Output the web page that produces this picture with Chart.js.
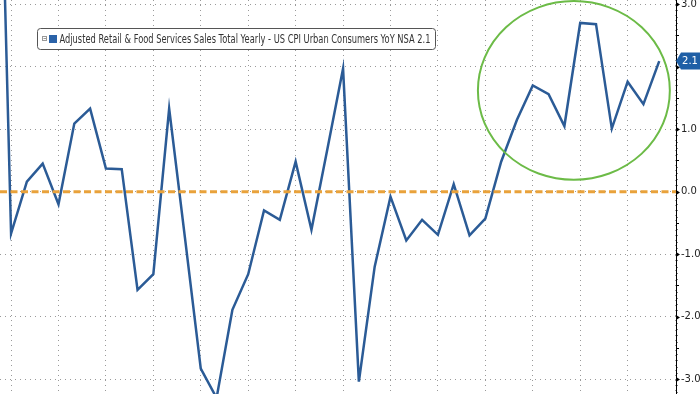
<!DOCTYPE html>
<html>
<head>
<meta charset="utf-8">
<script src="https://cdn.jsdelivr.net/npm/chart.js@4"></script>
<style>
html, body { margin: 0; padding: 0; background: #fff; }
#wrap { width: 700px; height: 394px; position: relative; }
</style>
</head>
<body>
<div id="wrap"><canvas id="c"></canvas></div>
<script>
// Retail sales YoY minus CPI YoY, monthly (first point sits just off the left edge)
const spread = [9.1, -0.67, 0.16, 0.45, -0.20, 1.09, 1.33, 0.37, 0.36, -1.57, -1.32,
  1.33, -0.74, -2.83, -3.3, -1.89, -1.32, -0.30, -0.45, 0.48, -0.61, 0.67, 1.97,
  -3.04, -1.20, -0.08, -0.78, -0.45, -0.69, 0.12, -0.70, -0.43, 0.48, 1.15, 1.70,
  1.56, 1.05, 2.70, 2.68, 1.01, 1.76, 1.40, 2.09];
const months = spread.map((_, i) => i);
const zeroLine = [0, 0];
const quarterGrid = [1, 4, 7, 10, 13, 16, 19, 22, 25, 28, 31, 34, 37, 40, 43];
const yTicks = [-3, -2, -1, 0, 1, 2, 3];
const seriesName = 'Adjusted Retail & Food Services Sales Total Yearly - US CPI Urban Consumers YoY NSA';

const xMin = 0.3, xMax = 43.06;
const lineBlue = '#2b5b96';

const overlay = {
  id: 'overlay',
  afterDatasetsDraw(chart) {
    const {ctx, scales: {x, y}, chartArea} = chart;
    ctx.save();

    // green ring round the last stretch
    const cx = x.getPixelForValue(36.6), cy = y.getPixelForValue(1.62);
    const rx = x.getPixelForValue(42.67) - cx, ry = cy - y.getPixelForValue(3.05);
    ctx.strokeStyle = '#6cbb47';
    ctx.lineWidth = 2;
    ctx.beginPath();
    ctx.ellipse(cx, cy, rx, ry, 0, 0, Math.PI * 2);
    ctx.stroke();

    // axis ticks: minor every 0.1, medium every 0.5, arrow at whole numbers
    const ax = chartArea.right;
    ctx.fillStyle = '#000';
    ctx.strokeStyle = '#000';
    ctx.lineWidth = 1;
    for (let t = -32; t <= 30; t++) {
      const py = Math.round(y.getPixelForValue(t / 10)) + 0.5;
      if (t % 10 === 0) {
        ctx.beginPath();
        ctx.moveTo(ax, py - 2.5);
        ctx.lineTo(ax + 4, py);
        ctx.lineTo(ax, py + 2.5);
        ctx.closePath();
        ctx.fill();
      } else {
        const len = t % 5 === 0 ? 3 : 1.5;
        ctx.beginPath();
        ctx.moveTo(ax, py);
        ctx.lineTo(ax + len, py);
        ctx.stroke();
      }
    }

    // last value tag
    const last = spread[spread.length - 1];
    const ly = y.getPixelForValue(last);
    ctx.fillStyle = '#1f5fa6';
    ctx.beginPath();
    ctx.moveTo(ax, ly);
    ctx.lineTo(ax + 5, ly - 8.5);
    ctx.lineTo(700, ly - 8.5);
    ctx.lineTo(700, ly + 8.5);
    ctx.lineTo(ax + 5, ly + 8.5);
    ctx.closePath();
    ctx.fill();
    ctx.fillStyle = '#fff';
    ctx.font = '10px "DejaVu Sans"';
    ctx.textAlign = 'center';
    ctx.textBaseline = 'middle';
    ctx.fillText(last.toFixed(1), ax + 14, ly + 0.5);

    // legend box
    ctx.fillStyle = '#fff';
    ctx.strokeStyle = '#555';
    ctx.lineWidth = 1;
    ctx.beginPath();
    ctx.roundRect(37.5, 28.5, 398, 21, 3);
    ctx.fill();
    ctx.stroke();
    ctx.strokeStyle = '#999';
    ctx.strokeRect(42.5, 36.5, 4, 4);
    ctx.beginPath();
    ctx.moveTo(43.5, 38.5);
    ctx.lineTo(46, 38.5);
    ctx.stroke();
    ctx.fillStyle = '#2a62a8';
    ctx.fillRect(49, 35, 8, 8);

    const label = seriesName + ' ' + last.toFixed(1);
    ctx.font = '12px "DejaVu Sans"';
    ctx.textAlign = 'left';
    ctx.textBaseline = 'middle';
    ctx.fillStyle = '#333';
    const w = ctx.measureText(label).width;
    ctx.translate(59.5, 39.5);
    ctx.scale(371 / w, 1);
    ctx.fillText(label, 0, 0);
    ctx.restore();
  }
};

new Chart(document.getElementById('c'), {
  type: 'line',
  data: {
    datasets: [{
      data: zeroLine.map((v, i) => ({x: i === 0 ? xMin : xMax, y: v})),
      borderColor: '#e9a23b',
      borderWidth: 3,
      borderDash: [7, 3.5],
      pointRadius: 0,
      order: 0
    }, {
      data: spread.map((v, i) => ({x: months[i], y: v})),
      borderColor: lineBlue,
      borderWidth: 2.5,
      pointRadius: 0,
      tension: 0,
      order: 1
    }]
  },
  options: {
    responsive: true,
    maintainAspectRatio: false,
    animation: false,
    events: [],
    layout: {padding: 0},
    plugins: {legend: {display: false}, tooltip: {enabled: false}},
    scales: {
      x: {
        type: 'linear',
        min: xMin,
        max: xMax,
        afterBuildTicks: s => { s.ticks = quarterGrid.map(v => ({value: v})); },
        afterFit: s => { s.height = 0; s.paddingLeft = 0; s.paddingRight = 0; },
        ticks: {display: false},
        grid: {color: '#9a9a9a', lineWidth: 1, drawTicks: false},
        border: {display: false, dash: [1, 4]}
      },
      y: {
        position: 'right',
        min: -3.237,
        max: 3.067,
        afterBuildTicks: s => { s.ticks = yTicks.map(v => ({value: v})); },
        afterFit: s => { s.width = 24; s.paddingTop = 0; s.paddingBottom = 0; },
        ticks: {
          callback: v => v.toFixed(1),
          font: {family: 'DejaVu Sans', size: 10},
          color: '#222',
          padding: 5
        },
        grid: {color: '#9a9a9a', lineWidth: 1, drawTicks: false},
        border: {display: true, color: '#000', width: 1, dash: [1, 4]}
      }
    }
  },
  plugins: [overlay]
});
</script>
</body>
</html>
